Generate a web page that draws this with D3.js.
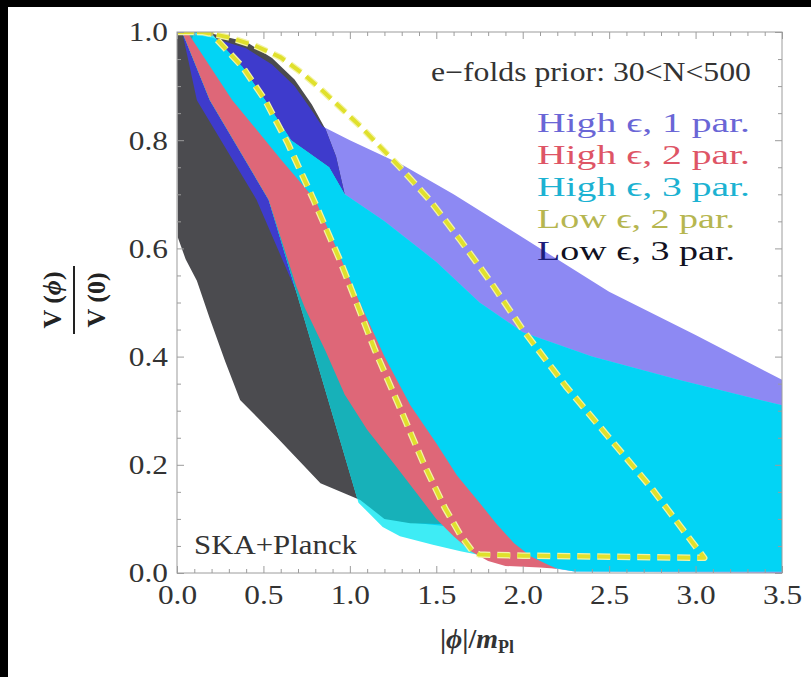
<!DOCTYPE html>
<html>
<head>
<meta charset="utf-8">
<script src="https://cdn.jsdelivr.net/npm/d3@7"></script>
<style>
  html, body { margin: 0; padding: 0; background: #fff; }
  svg { display: block; }
</style>
</head>
<body>
<svg id="chart" width="811" height="677"></svg>
<script>
// ---- tick labels ----
const xTicks = [0, 0.5, 1.0, 1.5, 2.0, 2.5, 3.0, 3.5];
const yTicks = [0, 0.2, 0.4, 0.6, 0.8, 1.0];

// ---- legend entries ----
const seriesNames  = ["High \u03F5, 1 par.", "High \u03F5, 2 par.", "High \u03F5, 3 par.", "Low \u03F5, 2 par.", "Low \u03F5, 3 par."];
const seriesColors = ["#6a66d6", "#de5566", "#1cb2d2", "#b6b650", "#111122"];

// ---- reconstructed potential bands, outlines as [|phi|/m_Pl, V/V0] ----
// High eps, 1 parameter
const high1Band = [
  [0,1],[0.2,0.99],[0.4,0.97],[0.55,0.94],[0.68,0.90],[0.78,0.855],[0.84,0.826],
  [1.0,0.80],[1.3,0.755],[1.6,0.70],[2.0,0.62],[2.5,0.52],[3.0,0.44],[3.5,0.357],
  [3.5,0.0],[2.3,0.003],[2.15,0.01],[2.0,0.02],[1.8,0.035],[1.6,0.085],[1.3,0.095],
  [1.06,0.14],[0.71,0.505],[0.46,0.69],[0.115,0.874],[0.03,1.0]
];
// High eps, 2 parameters
const high2Band = [
  [0.03,1.0],[0.19,0.874],[0.53,0.69],[0.69,0.53],[0.74,0.49],[0.86,0.41],[0.97,0.33],
  [1.1,0.265],[1.26,0.2],[1.38,0.15],[1.5,0.1],[1.6,0.068],[1.7,0.04],[1.8,0.022],
  [1.9,0.013],[2.1,0.01],[2.2,0.008],[2.15,0.015],[2.05,0.03],[1.95,0.055],[1.85,0.09],
  [1.75,0.13],[1.62,0.18],[1.5,0.24],[1.35,0.31],[1.2,0.4],[1.05,0.505],[0.95,0.58],
  [0.80,0.69],[0.6,0.765],[0.32,0.874],[0.06,1.0]
];
// High eps, 3 parameters
const high3Band = [
  [0.03,1.0],[0.19,1.0],[0.38,0.935],[0.51,0.874],[0.66,0.80],[0.88,0.75],[0.97,0.70],
  [1.2,0.65],[1.5,0.575],[1.75,0.50],[2.0,0.445],[2.4,0.40],[2.9,0.357],[3.5,0.31],
  [3.5,0.003],[2.3,0.003],[2.0,0.02],[1.8,0.03],[1.64,0.04],[1.48,0.052],[1.29,0.068],
  [1.19,0.085],[1.05,0.13],[0.69,0.52],[0.53,0.69],[0.19,0.874]
];
// Low eps, 2 parameters (dashed outline)
const low2Outline = [
  [0,1.0],[0.15,1.0],[0.3,0.99],[0.45,0.975],[0.6,0.953],[0.72,0.925],[0.83,0.895],
  [1.06,0.826],[1.29,0.75],[1.46,0.69],[1.64,0.615],[1.81,0.54],[2.0,0.45],[2.25,0.345],
  [2.5,0.25],[2.75,0.155],[2.95,0.07],[3.05,0.028],[2.5,0.03],[2.0,0.032],[1.75,0.034],
  [1.71,0.04],[1.64,0.07],[1.55,0.12],[1.43,0.2],[1.29,0.305],[1.145,0.412],[1.02,0.515],
  [0.94,0.58],[0.79,0.69],[0.64,0.795],[0.51,0.874],[0.38,0.935],[0.19,1.0]
];
// Low eps, 3 parameters
const low3Band = [
  [0,1.0],[0.2,0.997],[0.4,0.982],[0.55,0.952],[0.68,0.912],[0.78,0.866],[0.86,0.82],
  [0.92,0.77],[0.97,0.70],[0.88,0.75],[0.66,0.80],[0.51,0.874],[0.38,0.935],[0.19,1.0],
  [0.1,1.0],[0.08,0.98],[0.27,0.85],[0.6,0.71],[0.76,0.56],[0.9,0.46],[1.0,0.37],[1.15,0.28],
  [1.3,0.205],[1.45,0.145],[1.58,0.09],[1.35,0.092],[1.2,0.1],[1.06,0.135],[0.83,0.166],
  [0.58,0.25],[0.365,0.32],[0.28,0.39],[0.19,0.47],[0.115,0.54],[0.05,0.58],[0.005,0.62]
];

// ---- fill colours (single and overlapping bands) ----
const fill = {
  purple: "#8d89f3",
  purpleOnGray: "#3e3bcc",
  gray: "#4b4b4f",
  cyan: "#3eecf5",
  cyanOnPurple: "#02d4f5",
  cyanOnGray: "#17b1b9",
  red: "#de6778",
  dashLight: "#f3f3a6",
  dash: "#e0e02c"
};

const W = 811, H = 677;
const svg = d3.select("#chart");
svg.append("rect").attr("width", W).attr("height", H).attr("fill", "#fff");
svg.append("rect").attr("x", 0).attr("y", 0).attr("width", W).attr("height", 7).attr("fill", "#000");
svg.append("rect").attr("x", 0).attr("y", 0).attr("width", 8).attr("height", H).attr("fill", "#000");

const x = d3.scaleLinear().domain([0, 3.5]).range([177, 782]);
const y = d3.scaleLinear().domain([0, 1]).range([573, 32]);
const shape = d3.line().x(d => x(d[0])).y(d => y(d[1])).curve(d3.curveLinearClosed);

const defs = svg.append("defs");
defs.append("clipPath").attr("id", "plotArea").append("rect")
  .attr("x", x(0)).attr("y", y(1)).attr("width", x(3.5) - x(0)).attr("height", y(0) - y(1));
defs.append("clipPath").attr("id", "inPurple").append("path").attr("d", shape(high1Band));
defs.append("clipPath").attr("id", "inGray").append("path").attr("d", shape(low3Band));

const plot = svg.append("g").attr("clip-path", "url(#plotArea)");
plot.append("path").attr("d", shape(high1Band)).attr("fill", fill.purple);
plot.append("path").attr("d", shape(low3Band)).attr("fill", fill.gray);
plot.append("g").attr("clip-path", "url(#inGray)")
  .append("path").attr("d", shape(high1Band)).attr("fill", fill.purpleOnGray);
plot.append("path").attr("d", shape(high3Band)).attr("fill", fill.cyan);
plot.append("g").attr("clip-path", "url(#inPurple)")
  .append("path").attr("d", shape(high3Band)).attr("fill", fill.cyanOnPurple);
plot.append("g").attr("clip-path", "url(#inGray)")
  .append("path").attr("d", shape(high3Band)).attr("fill", fill.cyanOnGray);
plot.append("path").attr("d", shape(high2Band)).attr("fill", fill.red);

plot.append("path").attr("d", shape(low2Outline)).attr("fill", "none")
  .attr("stroke", fill.dashLight).attr("stroke-width", 6.5)
  .attr("stroke-dasharray", "13 7").attr("stroke-linejoin", "round");
plot.append("path").attr("d", shape(low2Outline)).attr("fill", "none")
  .attr("stroke", fill.dash).attr("stroke-width", 4)
  .attr("stroke-dasharray", "13 7").attr("stroke-linejoin", "round");

// ---- frame and ticks ----
const frameColor = "#9c9c9c";
svg.append("rect").attr("x", x(0)).attr("y", y(1))
  .attr("width", x(3.5) - x(0)).attr("height", y(0) - y(1))
  .attr("fill", "none").attr("stroke", frameColor).attr("stroke-width", 1);

const xMinor = d3.range(0, 3.5001, 0.1).filter(v => Math.abs(v * 2 - Math.round(v * 2)) > 1e-6);
const yMinor = d3.range(0, 1.0001, 0.05).filter(v => Math.abs(v * 5 - Math.round(v * 5)) > 1e-6);
const serif = "Liberation Serif, Times New Roman, Times, serif";

function styleAxis(g) {
  g.select(".domain").remove();
  g.selectAll(".tick line").attr("stroke", frameColor);
}

svg.append("g").attr("transform", `translate(0,${y(0)})`)
  .call(d3.axisBottom(x).tickValues(xTicks).tickSize(-7).tickPadding(11).tickFormat(d3.format(".1f")))
  .call(styleAxis)
  .call(g => g.selectAll("text").attr("font-family", serif).attr("font-size", 28)
    .attr("fill", "#333").attr("transform", "scale(1.12,1)"));
svg.append("g").attr("transform", `translate(0,${y(0)})`)
  .call(d3.axisBottom(x).tickValues(xMinor).tickSize(-4).tickFormat(""))
  .call(styleAxis);
svg.append("g").attr("transform", `translate(0,${y(1)})`)
  .call(d3.axisTop(x).tickValues(xTicks).tickSize(-7).tickFormat(""))
  .call(styleAxis);
svg.append("g").attr("transform", `translate(0,${y(1)})`)
  .call(d3.axisTop(x).tickValues(xMinor).tickSize(-4).tickFormat(""))
  .call(styleAxis);

svg.append("g").attr("transform", `translate(${x(0)},0)`)
  .call(d3.axisLeft(y).tickValues(yTicks).tickSize(-7).tickPadding(8).tickFormat(d3.format(".1f")))
  .call(styleAxis)
  .call(g => g.selectAll("text").attr("font-family", serif).attr("font-size", 28)
    .attr("fill", "#333").attr("transform", "scale(1.12,1)"));
svg.append("g").attr("transform", `translate(${x(0)},0)`)
  .call(d3.axisLeft(y).tickValues(yMinor).tickSize(-4).tickFormat(""))
  .call(styleAxis);
svg.append("g").attr("transform", `translate(${x(3.5)},0)`)
  .call(d3.axisRight(y).tickValues(yTicks).tickSize(-7).tickFormat(""))
  .call(styleAxis);
svg.append("g").attr("transform", `translate(${x(3.5)},0)`)
  .call(d3.axisRight(y).tickValues(yMinor).tickSize(-4).tickFormat(""))
  .call(styleAxis);

// ---- axis titles ----
const xt = svg.append("text").attr("x", 477).attr("y", 648)
  .attr("text-anchor", "middle").attr("font-family", serif).attr("font-size", 28)
  .attr("font-weight", "bold").attr("fill", "#333");
xt.append("tspan").text("|");
xt.append("tspan").attr("font-style", "italic").text("\u03D5");
xt.append("tspan").text("|/");
xt.append("tspan").attr("font-style", "italic").text("m");
xt.append("tspan").attr("font-size", 18).attr("dy", 5).text("Pl");

const yt = svg.append("g").attr("transform", "translate(74,300) rotate(-90)")
  .attr("font-family", serif).attr("font-size", 26).attr("font-weight", "bold").attr("fill", "#222");
yt.append("text").attr("x", 0).attr("y", -13).attr("text-anchor", "middle")
  .call(t => { t.append("tspan").text("V (");
               t.append("tspan").attr("font-style", "italic").text("\u03D5");
               t.append("tspan").text(")"); });
yt.append("line").attr("x1", -34).attr("x2", 34).attr("y1", 0).attr("y2", 0)
  .attr("stroke", "#222").attr("stroke-width", 2);
yt.append("text").attr("x", 0).attr("y", 31).attr("text-anchor", "middle").text("V (0)");

// ---- annotations ----
svg.append("text").attr("x", 751).attr("y", 81).attr("text-anchor", "end")
  .attr("font-family", serif).attr("font-size", 27).attr("fill", "#333")
  .attr("textLength", 320).attr("lengthAdjust", "spacingAndGlyphs")
  .text("e\u2212folds prior: 30<N<500");

svg.append("text").attr("x", 194).attr("y", 554)
  .attr("font-family", serif).attr("font-size", 27).attr("fill", "#333")
  .attr("textLength", 163).attr("lengthAdjust", "spacingAndGlyphs")
  .text("SKA+Planck");

const legend = svg.append("g").attr("font-family", serif).attr("font-size", 28);
seriesNames.forEach((name, i) => {
  const t = legend.append("text").attr("x", 537).attr("y", 132 + i * 32)
    .attr("fill", seriesColors[i])
    .attr("textLength", name.startsWith("High") ? 213 : 198)
    .attr("lengthAdjust", "spacingAndGlyphs");
  if (i === 4) {
    t.append("tspan").attr("fill", "#1c1c7a").text(name.slice(0, 1));
    t.append("tspan").text(name.slice(1));
  } else {
    t.text(name);
  }
});
</script>
</body>
</html>
